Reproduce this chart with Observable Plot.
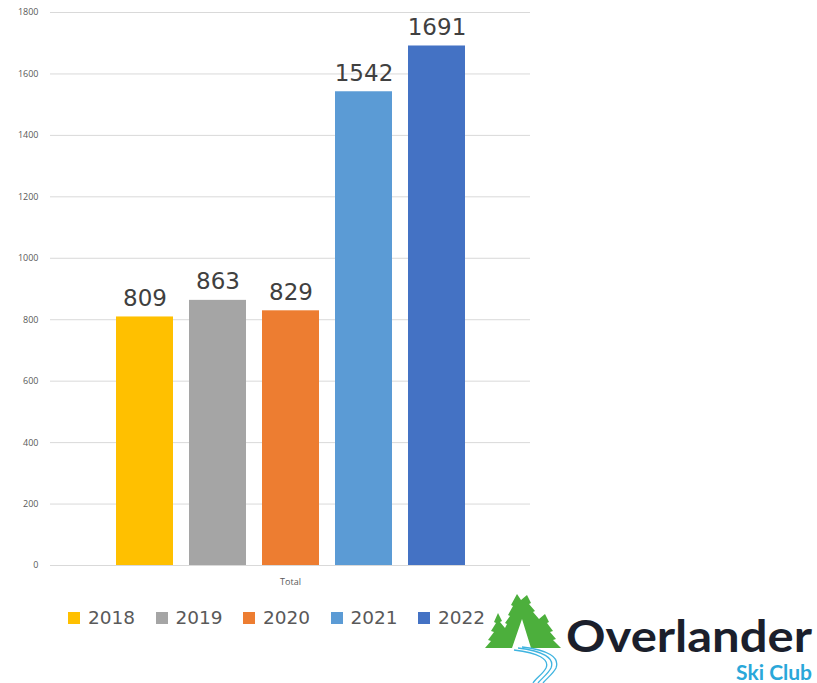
<!DOCTYPE html>
<html><head><meta charset="utf-8">
<script src="https://cdn.jsdelivr.net/npm/d3@7"></script>
<script src="https://cdn.jsdelivr.net/npm/@observablehq/plot@0.6"></script>
<style>
body{margin:0;background:#fff;}
#wrap{position:relative;width:817px;height:683px;overflow:hidden;}
#legend{position:absolute;left:68px;top:607px;display:flex;font-family:"DejaVu Sans",sans-serif;font-size:18.5px;color:#595959;}
.item{display:flex;align-items:center;width:87.5px;}
.sw{width:12px;height:12px;margin-right:8px;}
#logo{position:absolute;left:0;top:0;}
</style></head>
<body><div id="wrap"><div id="chart"></div><div id="legend"></div>
<svg id="logo" width="817" height="683" style="pointer-events:none">
 <polygon fill="#4caf3c" points="
  485,648 491,641 488,640 494,632 491,631 496,623 494,622 498,613
  502,621 500,622 505,628 507,624 505,623 510,616 508,615 513,606 511,605 517,594
  521,600 527,595
  531,603 529,604 535,611 533,612 539,619 545,614
  549,622 547,623 553,631 550,632 556,639 553,640 561,648
  531,648 522,619 512,648"/>
 <g fill="none" stroke="#3fb4e0" stroke-width="1.3">
  <path d="M514,650 C538,653 550,659 546,668 C543,674 536,678 533,683"/>
  <path d="M518,648 C543,651 555,658 551,668 C548,674 541,679 538,683"/>
  <path d="M522,647 C548,650 560,657 556,668 C553,674 546,679 543,683"/>
 </g>
 <text x="566" y="652" font-family="Lato, Inter, sans-serif" font-weight="700" font-size="44" fill="#1b1f2c" textLength="246" lengthAdjust="spacingAndGlyphs">Overlander</text>
 <text x="812" y="680" text-anchor="end" font-family="Lato, Inter, sans-serif" font-weight="700" font-size="21" fill="#2aa7d9">Ski Club</text>
</svg>
</div>
<script>
const years = ["2018","2019","2020","2021","2022"];
const totals = [809, 863, 829, 1542, 1691];
const colors = ["#FFC000","#A5A5A5","#ED7D31","#5B9BD5","#4472C4"];
const yTicks = [0,200,400,600,800,1000,1200,1400,1600,1800];
const categoryLabel = "Total";

const data = years.map((y,i)=>({year:y,value:totals[i]}));

const chart = Plot.plot({
  width: 817, height: 595,
  marginLeft: 50, marginRight: 287, marginTop: 12, marginBottom: 30,
  style: {fontFamily: "Open Sans, sans-serif", background: "#fff"},
  x: {domain: years, paddingInner: 0.225, paddingOuter: 0.873, axis: null},
  y: {domain: [0,1800], ticks: yTicks, axis: null},
  color: {domain: years, range: colors},
  marks: [
    Plot.gridY(yTicks, {stroke:"#d9d9d9", strokeOpacity:1, strokeWidth:1}),
    Plot.axisY(yTicks, {tickSize:0, tickPadding:12, fontSize:9, fill:"#595959", label:null, tickFormat: d=>String(d)}),
    Plot.barY(data, {x:"year", y:"value", fill:"year"}),
    Plot.text(data, {x:"year", y:"value", text: d=>String(d.value), dy:-11, lineAnchor:"bottom", fontSize:23, fill:"#404040", fontFamily:"DejaVu Sans, sans-serif"}),
    Plot.text([categoryLabel], {frameAnchor:"bottom", dy:19, fontSize:9, fill:"#595959"})
  ]
});
document.getElementById("chart").appendChild(chart);

const leg = document.getElementById("legend");
years.forEach((y,i)=>{
  const it = document.createElement("div"); it.className="item";
  const sw = document.createElement("div"); sw.className="sw"; sw.style.background=colors[i];
  const t = document.createElement("span"); t.textContent=y;
  it.appendChild(sw); it.appendChild(t); leg.appendChild(it);
});
</script></body></html>
